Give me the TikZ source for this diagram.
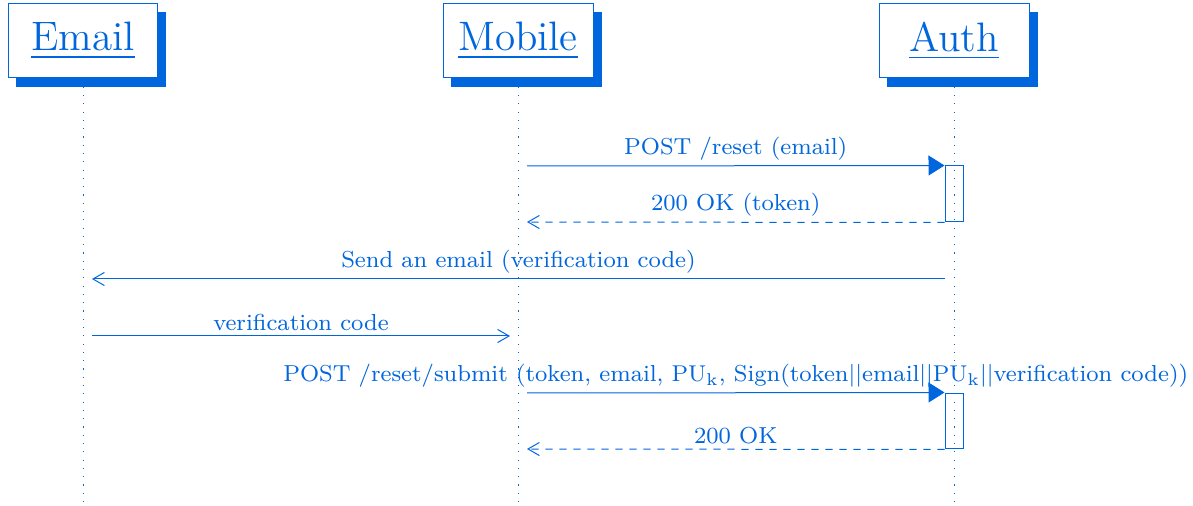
\documentclass[tikz,border=0pt]{standalone}
\usepackage{amsmath,amssymb}
\usepackage{tikz}
\usetikzlibrary{arrows, arrows.meta, positioning, shadows}
\usepackage{color,xcolor}
\definecolor{umlblue}{RGB}{0,102,221}

\begin{document}
\begin{tikzpicture}[x=0.35pt, y=-0.35pt, line width=0.35pt,
  actor/.style={draw=umlblue, fill=white, text=umlblue, font=\Large, minimum width=52.5pt, minimum height=25.9pt,
    copy shadow={shadow xshift=2.8pt, shadow yshift=-3.1pt, fill=umlblue, draw=umlblue}},
  actbox/.style={draw=umlblue, minimum width=6.3pt, inner sep=0pt},
  lifeline/.style={umlblue, dash pattern=on 0.4pt off 2.5pt},
  call/.style={umlblue, -{Triangle[length=5.6pt, width=7pt]}},
  reply/.style={umlblue, dash pattern=on 2.5pt off 2.4pt, -{Straight Barb[length=4pt, width=4.6pt]}},
  send/.style={umlblue, -{Straight Barb[length=4pt, width=4.6pt]}},
  msg/.style={above, inner sep=1.8pt, text=umlblue, font=\fontsize{8.1pt}{10pt}\selectfont}]
  \useasboundingbox (0,0) rectangle (1193,506);
  % participants
  \node[actor] (email) at (83,41) {\underline{Email}};
  \node[actor] (mobile) at (518,41) {\underline{Mobile}};
  \node[actor] (auth) at (954,41) {\underline{Auth}};
  \coordinate (bottom) at (0,506);
  \draw[lifeline] (email.south) -- (email |- bottom);
  \draw[lifeline] (mobile.south) -- (mobile |- bottom);
  \draw[lifeline] (auth.south) -- (auth |- bottom);
  % activations
  \node[actbox, minimum height=19.6pt] (act1) at (954,194) {};
  \node[actbox, minimum height=19.6pt] (act2) at (954,421) {};
  % messages
  \coordinate (mob1) at (527,166);
  \coordinate (mob2) at (527,222);
  \coordinate (auth3) at (945,279);
  \coordinate (eml3) at (92,279);
  \coordinate (eml4) at (92,336);
  \coordinate (mob4) at (510,336);
  \coordinate (mob5) at (527,393);
  \coordinate (mob6) at (527,449);
  \draw[call] (mob1) -- node[msg] {POST /reset (email)} (act1.north west);
  \draw[reply] (act1.south west) -- node[msg] {200 OK (token)} (mob2);
  \draw[send] (auth3) -- node[msg] {Send an email (verification code)} (eml3);
  \draw[send] (eml4) -- node[msg] {verification code} (mob4);
  \draw[call] (mob5) -- node[msg] {POST /reset/submit (token, email, $\mathrm{PU_k}$, Sign(token$||$email$||\mathrm{PU_k}||$verification code))} (act2.north west);
  \draw[reply] (act2.south west) -- node[msg] {200 OK} (mob6);
\end{tikzpicture}
\end{document}
